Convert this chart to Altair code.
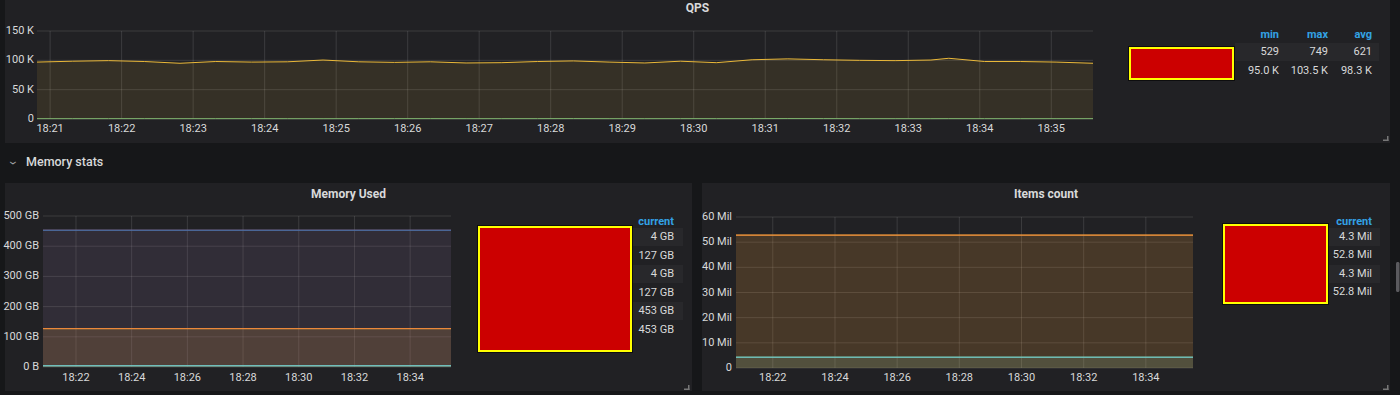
import altair as alt
import pandas as pd

# ---------------- styling ----------------
PAGE_BG = "#161719"
PANEL_BG = "#212124"
TEXT = "#d8d9da"
HEAD = "#33a2e5"
STRIPE = "#28282b"
PALETTE = ["#7EB26D", "#EAB839", "#6ED0E0", "#EF843C", "#E24D42", "#1F78C1"]
FONT = "Roboto"
DAY = "2023-01-01T"

# ---------------- data ----------------
qps_title = "QPS"
qps_times = ["18:20:49", "18:21:19", "18:21:49", "18:22:19", "18:22:49", "18:23:19",
             "18:23:49", "18:24:19", "18:24:49", "18:25:19", "18:25:49", "18:26:19",
             "18:26:49", "18:27:19", "18:27:49", "18:28:19", "18:28:49", "18:29:19",
             "18:29:49", "18:30:19", "18:30:49", "18:31:19", "18:31:49", "18:32:19",
             "18:32:49", "18:33:19", "18:33:34", "18:34:04", "18:34:34", "18:35:04",
             "18:35:35"]
qps_low = [612, 598, 640, 655, 589, 603, 630, 577, 529, 615, 662, 649, 598, 610, 633,
           701, 588, 574, 620, 606, 645, 749, 690, 612, 598, 583, 655, 602, 571, 596, 618]
qps_high = [97000, 98500, 99500, 98000, 95000, 98000, 97000, 97500, 100500, 97500,
            96500, 97500, 95500, 96000, 98000, 99000, 97000, 95500, 98500, 96000,
            101000, 102500, 101000, 100000, 99500, 100500, 103500, 98000, 98000,
            97000, 95000]
qps_domain = ("18:20:49", "18:35:35")
qps_xticks = ["18:%02d:00" % m for m in range(21, 36)]
qps_yticks = [0, 50000, 100000, 150000]
qps_ylabels = ["0", "50 K", "100 K", "150 K"]
qps_headers = ["min", "max", "avg"]
qps_min = ["529", "95.0 K"]
qps_max = ["749", "103.5 K"]
qps_avg = ["621", "98.3 K"]

row_title = "Memory stats"

mem_title = "Memory Used"
mem_times = ["18:20:49", "18:35:28"]
mem_values = [4, 127, 4, 127, 453, 453]          # GB
mem_current = ["4 GB", "127 GB", "4 GB", "127 GB", "453 GB", "453 GB"]
mem_xticks = ["18:%02d:00" % m for m in range(22, 35, 2)]
mem_yticks = [0, 100, 200, 300, 400, 500]
mem_ylabels = ["0 B", "100 GB", "200 GB", "300 GB", "400 GB", "500 GB"]

items_title = "Items count"
items_times = ["18:20:49", "18:35:31"]
items_values = [4.3, 52.8, 4.3, 52.8]            # Mil
items_current = ["4.3 Mil", "52.8 Mil", "4.3 Mil", "52.8 Mil"]
items_xticks = ["18:%02d:00" % m for m in range(22, 35, 2)]
items_yticks = [0, 10, 20, 30, 40, 50, 60]
items_ylabels = ["0", "10 Mil", "20 Mil", "30 Mil", "40 Mil", "50 Mil", "60 Mil"]

ONE = pd.DataFrame({"k": [0]})


def tdt(hms):
    h, m, s = (int(p) for p in hms.split(":"))
    return alt.DateTime(year=2023, month=1, date=1, hours=h, minutes=m, seconds=s)


def vrect(x1, x2, y1, y2, fill, stroke=None, sw=0, radius=0):
    if stroke:
        mk = alt.Chart(ONE).mark_rect(fill=fill, stroke=stroke, strokeWidth=sw)
    else:
        mk = alt.Chart(ONE).mark_rect(fill=fill, cornerRadius=radius)
    return mk.encode(x=alt.value(x1), x2=alt.value(x2), y=alt.value(y1), y2=alt.value(y2))


def vtext(s, x, y, size, color, weight="normal", align="center", angle=0):
    return alt.Chart(ONE).mark_text(
        text=s, fontSize=size, font=FONT, color=color, fontWeight=weight,
        align=align, baseline="middle", angle=angle
    ).encode(x=alt.value(x), y=alt.value(y))


def panel(df, names, xdom, xrange, ydom, yrange, xticks, yticks, ylabels,
          xlab_y, ylab_x):
    xs = alt.Scale(domain=[tdt(xdom[0]), tdt(xdom[1])], range=xrange, nice=False)
    ys = alt.Scale(domain=ydom, range=yrange, nice=False)
    color = alt.Color("s:N", scale=alt.Scale(domain=names, range=PALETTE[:len(names)]),
                      legend=None)
    xt = pd.DataFrame({"t": [DAY + t for t in xticks]})
    yt = pd.DataFrame({"v": yticks, "lab": ylabels})
    grid_x = alt.Chart(xt).mark_rule(color="#ffffff", opacity=0.12, strokeWidth=1).encode(
        x=alt.X("t:T", scale=xs, axis=None),
        y=alt.value(yrange[1]), y2=alt.value(yrange[0]))
    grid_y = alt.Chart(yt).mark_rule(color="#ffffff", opacity=0.12, strokeWidth=1).encode(
        y=alt.Y("v:Q", scale=ys, axis=None),
        x=alt.value(xrange[0]), x2=alt.value(xrange[1]))
    area = alt.Chart(df).mark_area(fillOpacity=0.1).encode(
        x=alt.X("t:T", scale=xs, axis=None),
        y=alt.Y("v:Q", scale=ys, axis=None, stack=None),
        color=color, detail="s:N")
    line = alt.Chart(df).mark_line(strokeWidth=1).encode(
        x=alt.X("t:T", scale=xs, axis=None),
        y=alt.Y("v:Q", scale=ys, axis=None),
        color=color, detail="s:N")
    xlab = alt.Chart(xt).mark_text(color=TEXT, fontSize=11, font=FONT,
                                   baseline="middle", align="center").encode(
        x=alt.X("t:T", scale=xs, axis=None), y=alt.value(xlab_y),
        text=alt.Text("t:T", format="%H:%M"))
    ylab = alt.Chart(yt).mark_text(color=TEXT, fontSize=11, font=FONT,
                                   baseline="middle", align="right").encode(
        y=alt.Y("v:Q", scale=ys, axis=None), x=alt.value(ylab_x), text="lab:N")
    return [grid_x, grid_y, area, line, xlab, ylab]


def legend_layers(headers, columns, col_x, header_y, row_y0, row_y1):
    out = []
    for i, (h, vals) in enumerate(zip(headers, columns)):
        out.append(vtext(h, col_x[i], header_y, 11, HEAD, "bold", "right"))
        d = pd.DataFrame({"row": list(range(len(vals))), "txt": vals})
        out.append(alt.Chart(d).mark_text(
            align="right", baseline="middle", fontSize=11, font=FONT, color=TEXT
        ).encode(
            y=alt.Y("row:O", scale=alt.Scale(type="point", range=[row_y0, row_y1], padding=0),
                    axis=None),
            x=alt.value(col_x[i]),
            text="txt:N"))
    return out


def redbox(x1, x2, y1, y2):
    return [vrect(x1 - 1, x2 + 1, y1 - 1, y2 + 1, "#0d0d0f"),
            vrect(x1 + 1, x2 - 1, y1 + 1, y2 - 1, "#cc0000", "#ffff00", 2)]


def corner(x, y):
    return [vrect(x, x + 1.5, y - 4, y + 1, "#777777"),
            vrect(x - 4, x + 1.5, y - 0.5, y + 1, "#777777")]


def long_df(times, names, values):
    return pd.DataFrame({
        "t": [DAY + t for _ in names for t in times],
        "v": [v for v in values for _ in times],
        "s": [n for n in names for _ in times],
    })


# ---------------- QPS panel ----------------
qps_df = pd.DataFrame({
    "t": [DAY + t for t in qps_times] * 2,
    "v": qps_low + qps_high,
    "s": ["a"] * len(qps_times) + ["b"] * len(qps_times),
})
qps_layers = (
    [vrect(5, 1390, 0, 143, PANEL_BG)]
    + panel(qps_df, ["a", "b"], qps_domain, [37, 1093], [0, 150000], [119, 31],
            qps_xticks, qps_yticks, qps_ylabels, 129, 34)
    + [vtext(qps_title, 697.5, 8, 12, TEXT, "bold")]
    + [vrect(1235, 1379, 43, 61, STRIPE)]
    + redbox(1129, 1234, 47, 80)
    + legend_layers(qps_headers, [qps_min, qps_max, qps_avg], [1279, 1328, 1372], 35, 52, 71)
    + corner(1387, 140)
)

# ---------------- row header ----------------
header_layers = [
    vtext("\u203a", 14, 163, 15, "#9fa0a4", "normal", "center", 90),
    vtext(row_title, 26, 162, 12.5, TEXT, 500, "left"),
]

# ---------------- Memory Used panel ----------------
mem_names = ["m%d" % i for i in range(len(mem_values))]
mem_df = long_df(mem_times, mem_names, mem_values)
mem_layers = (
    [vrect(5, 692, 183, 391, PANEL_BG)]
    + panel(mem_df, mem_names, (mem_times[0], mem_times[1]), [43, 451], [0, 500], [367, 216],
            mem_xticks, mem_yticks, mem_ylabels, 378, 39)
    + [vtext(mem_title, 348.5, 194, 12, TEXT, "bold")]
    + [vrect(633, 683, 228, 246, STRIPE), vrect(633, 683, 265, 283, STRIPE),
       vrect(633, 683, 302, 320, STRIPE)]
    + redbox(478, 632, 226, 352)
    + legend_layers(["current"], [mem_current], [674], 222, 237, 330)
    + corner(688, 389)
)

# ---------------- Items count panel ----------------
items_names = ["i%d" % i for i in range(len(items_values))]
items_df = long_df(items_times, items_names, items_values)
items_layers = (
    [vrect(702, 1390, 183, 391, PANEL_BG)]
    + panel(items_df, items_names, (items_times[0], items_times[1]), [736, 1193], [0, 60],
            [368, 217], items_xticks, items_yticks, items_ylabels, 378, 732)
    + [vtext(items_title, 1046, 194, 12, TEXT, "bold")]
    + [vrect(1328, 1380, 228, 246, STRIPE), vrect(1328, 1380, 265, 283, STRIPE)]
    + redbox(1223, 1328, 224, 304)
    + legend_layers(["current"], [items_current], [1372], 222, 237, 292)
    + corner(1387, 389)
)

scrollbar = [vrect(1396, 1399.5, 262, 292, "#5a5a5e", radius=1.5)]

chart = alt.layer(
    *(qps_layers + header_layers + mem_layers + items_layers + scrollbar)
).resolve_scale(
    x="independent", y="independent", color="independent"
).properties(
    width=1400, height=395, padding=0, autosize="none", background=PAGE_BG,
).configure_view(stroke="transparent")

chart.save("out.html", embed_options={"renderer": "svg", "actions": False})
